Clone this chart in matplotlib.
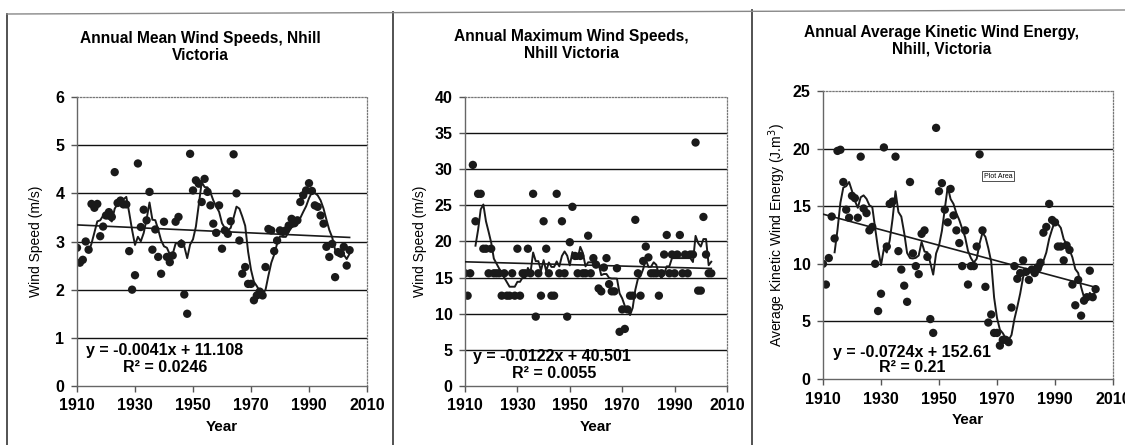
import numpy as np
import pandas as pd
import matplotlib
matplotlib.use("Agg")
import matplotlib.pyplot as plt
from matplotlib.lines import Line2D

plt.rcParams['font.family'] = ['Liberation Sans', 'DejaVu Sans']

years = list(range(1910, 2005))

mean_speed = [2.87, 2.56, 2.62, 3.00, 2.83, 3.78, 3.70, 3.78, 3.11, 3.31,
              3.54, 3.61, 3.51, 4.44, 3.80, 3.85, 3.77, 3.77, 2.80, 2.00,
              2.30, 4.62, 3.30, 3.66, 3.44, 4.03, 2.83, 3.25, 2.68, 2.33,
              3.41, 2.68, 2.57, 2.71, 3.41, 3.51, 2.95, 1.90, 1.50, 4.82,
              4.06, 4.27, 4.20, 3.82, 4.30, 4.03, 3.75, 3.37, 3.18, 3.75,
              2.85, 3.23, 3.16, 3.42, 4.81, 4.00, 3.02, 2.33, 2.47, 2.12,
              2.12, 1.78, 1.88, 1.96, 1.88, 2.47, 3.26, 3.23, 2.80, 3.02,
              3.23, 3.20, 3.23, 3.33, 3.47, 3.38, 3.44, 3.82, 3.96, 4.06,
              4.21, 4.05, 3.75, 3.72, 3.54, 3.37, 2.89, 2.68, 2.95, 2.26,
              2.78, 2.75, 2.89, 2.50, 2.82]

max_speed = [15.6, 12.5, 15.6, 30.6, 22.8, 26.6, 26.6, 19.0, 19.0, 15.6,
             19.0, 15.6, 15.6, 15.6, 12.5, 15.6, 12.5, 12.5, 15.6, 12.5,
             19.0, 12.5, 15.6, 15.6, 19.0, 15.6, 26.6, 9.6, 15.6, 12.5,
             22.8, 19.0, 15.6, 12.5, 12.5, 26.6, 15.6, 22.8, 15.6, 9.6,
             19.9, 24.8, 18.0, 15.6, 18.0, 15.6, 15.6, 20.8, 15.6, 17.7,
             16.8, 13.5, 13.1, 16.4, 17.7, 14.1, 13.1, 13.1, 16.3, 7.5,
             10.6, 7.9, 10.6, 12.5, 12.5, 23.0, 15.6, 12.5, 17.3, 19.3,
             17.8, 15.6, 15.6, 15.6, 12.5, 15.6, 18.2, 20.9, 15.6, 18.2,
             15.6, 18.2, 20.9, 15.6, 18.2, 15.6, 18.2, 18.2, 33.7, 13.2,
             13.2, 23.4, 18.2, 15.6, 15.6]

energy = [10.0, 8.2, 10.5, 14.1, 12.2, 19.8, 19.9, 17.1, 14.7, 14.0,
          15.9, 15.7, 14.0, 19.3, 14.8, 14.4, 12.9, 13.2, 10.0, 5.9,
          7.4, 20.1, 11.5, 15.2, 15.4, 19.3, 11.1, 9.5, 8.1, 6.7,
          17.1, 10.9, 9.8, 9.1, 12.6, 12.9, 10.6, 5.2, 4.0, 21.8,
          16.3, 17.0, 14.7, 13.6, 16.5, 14.2, 12.9, 11.8, 9.8, 12.9,
          8.2, 9.8, 9.8, 11.5, 19.5, 12.9, 8.0, 4.9, 5.6, 4.0,
          4.0, 2.9, 3.4, 3.4, 3.2, 6.2, 9.8, 8.7, 9.2, 10.3,
          9.3, 8.6, 9.5, 9.2, 9.7, 10.1, 12.7, 13.2, 15.2, 13.8,
          13.6, 11.5, 11.5, 10.3, 11.6, 11.2, 8.2, 6.4, 8.6, 5.5,
          6.8, 7.1, 9.4, 7.1, 7.8]

titles = ["Annual Mean Wind Speeds, Nhill\nVictoria",
          "Annual Maximum Wind Speeds,\nNhill Victoria",
          "Annual Average Kinetic Wind Energy,\nNhill, Victoria"]
ylabels = ["Wind Speed (m/s)", "Wind Speed (m/s)",
           "Average Kinetic Wind Energy (J.m$^{3}$)"]
equations = ["y = -0.0041x + 11.108", "y = -0.0122x + 40.501",
             "y = -0.0724x + 152.61"]
r2_texts = ["R\u00b2 = 0.0246", "R\u00b2 = 0.0055", "R\u00b2 = 0.21"]
y_max = [6, 40, 25]
y_step = [1, 5, 5]
xticks = [1910, 1930, 1950, 1970, 1990, 2010]

W, H = 1125, 445
fig = plt.figure(figsize=(W / 100, H / 100), dpi=100)

def fx(px):
    return px / W

def fy(py):
    return 1 - py / H

# axes rectangles in pixels: left, top, right, bottom
rects = [(77, 97, 367, 386), (465, 97, 727, 386), (823, 91, 1113, 379)]
title_pos = [(200, 47), (571, 45), (942, 41)]
ylab_x = [36, 420, 777]
eq_pos = [((86, 350), (123, 368)), ((473, 357), (512, 374)), ((833, 352), (879, 368))]

series = [mean_speed, max_speed, energy]
ink = '#1a1a1a'

for i in range(3):
    l, t, r, b = rects[i]
    ax = fig.add_axes([fx(l), fy(b), fx(r - l), (b - t) / H])
    data = np.array(series[i], dtype=float)
    yrs = np.array(years, dtype=float)

    ax.set_xlim(1910, 2010)
    ax.set_ylim(0, y_max[i])
    yt = np.arange(0, y_max[i] + 0.001, y_step[i])
    for v in yt[1:-1]:
        ax.axhline(v, color='#111111', lw=1.0, zorder=1)

    ax.scatter(yrs, data, s=36, color=ink, edgecolors='none', zorder=2)

    ma = pd.Series(data).rolling(5).mean().to_numpy()
    ax.plot(yrs[4:], ma[4:], color=ink, lw=1.4, zorder=3)

    coef = np.polyfit(yrs, data, 1)
    ax.plot(yrs, np.polyval(coef, yrs), color=ink, lw=1.2, zorder=3)

    ax.set_xticks(xticks)
    ax.set_yticks(yt)
    ax.tick_params(axis='both', direction='out', length=4, width=1,
                   color='#555555', labelsize=11.5, pad=5)
    for lab in ax.get_xticklabels() + ax.get_yticklabels():
        lab.set_fontweight('bold')
    ax.xaxis.set_tick_params(pad=5)

    for side in ['top', 'right']:
        ax.spines[side].set_linestyle((0, (1, 1.5)))
        ax.spines[side].set_color('#777777')
        ax.spines[side].set_linewidth(0.9)
    for side in ['left', 'bottom']:
        ax.spines[side].set_color('#666666')
        ax.spines[side].set_linewidth(1.0)

    ax.set_xlabel("Year", fontsize=11, fontweight='bold', labelpad=5)
    fig.text(fx(ylab_x[i]), fy((t + b) / 2), ylabels[i], rotation=90,
             ha='center', va='center', fontsize=10)

    tx, ty = title_pos[i]
    fig.text(fx(tx), fy(ty), titles[i], ha='center', va='center',
             fontsize=11.2, fontweight='bold', linespacing=1.1)

    (ex, ey), (rx, ry) = eq_pos[i]
    fig.text(fx(ex), fy(ey), equations[i], ha='left', va='center',
             fontsize=11.5, fontweight='bold')
    fig.text(fx(rx), fy(ry), r2_texts[i], ha='left', va='center',
             fontsize=11.5, fontweight='bold')

# Plot Area tooltip in third panel
fig.text(fx(998), fy(176), "Plot Area", ha='center', va='center', fontsize=5,
         bbox=dict(boxstyle='square,pad=0.25', fc='white', ec='#333333', lw=0.6))

# panel borders from the scanned page
border = '#444444'
fig.add_artist(Line2D([fx(7), fx(7)], [fy(14), 0], color=border, lw=1.3))
fig.add_artist(Line2D([fx(393), fx(393)], [fy(12), 0], color=border, lw=1.3))
fig.add_artist(Line2D([fx(752), fx(752)], [fy(10), 0], color=border, lw=1.3))
fig.add_artist(Line2D([fx(7), 1], [fy(14), fy(10)], color='#888888', lw=1.0))

fig.savefig("out.png", dpi=100, facecolor='white')
